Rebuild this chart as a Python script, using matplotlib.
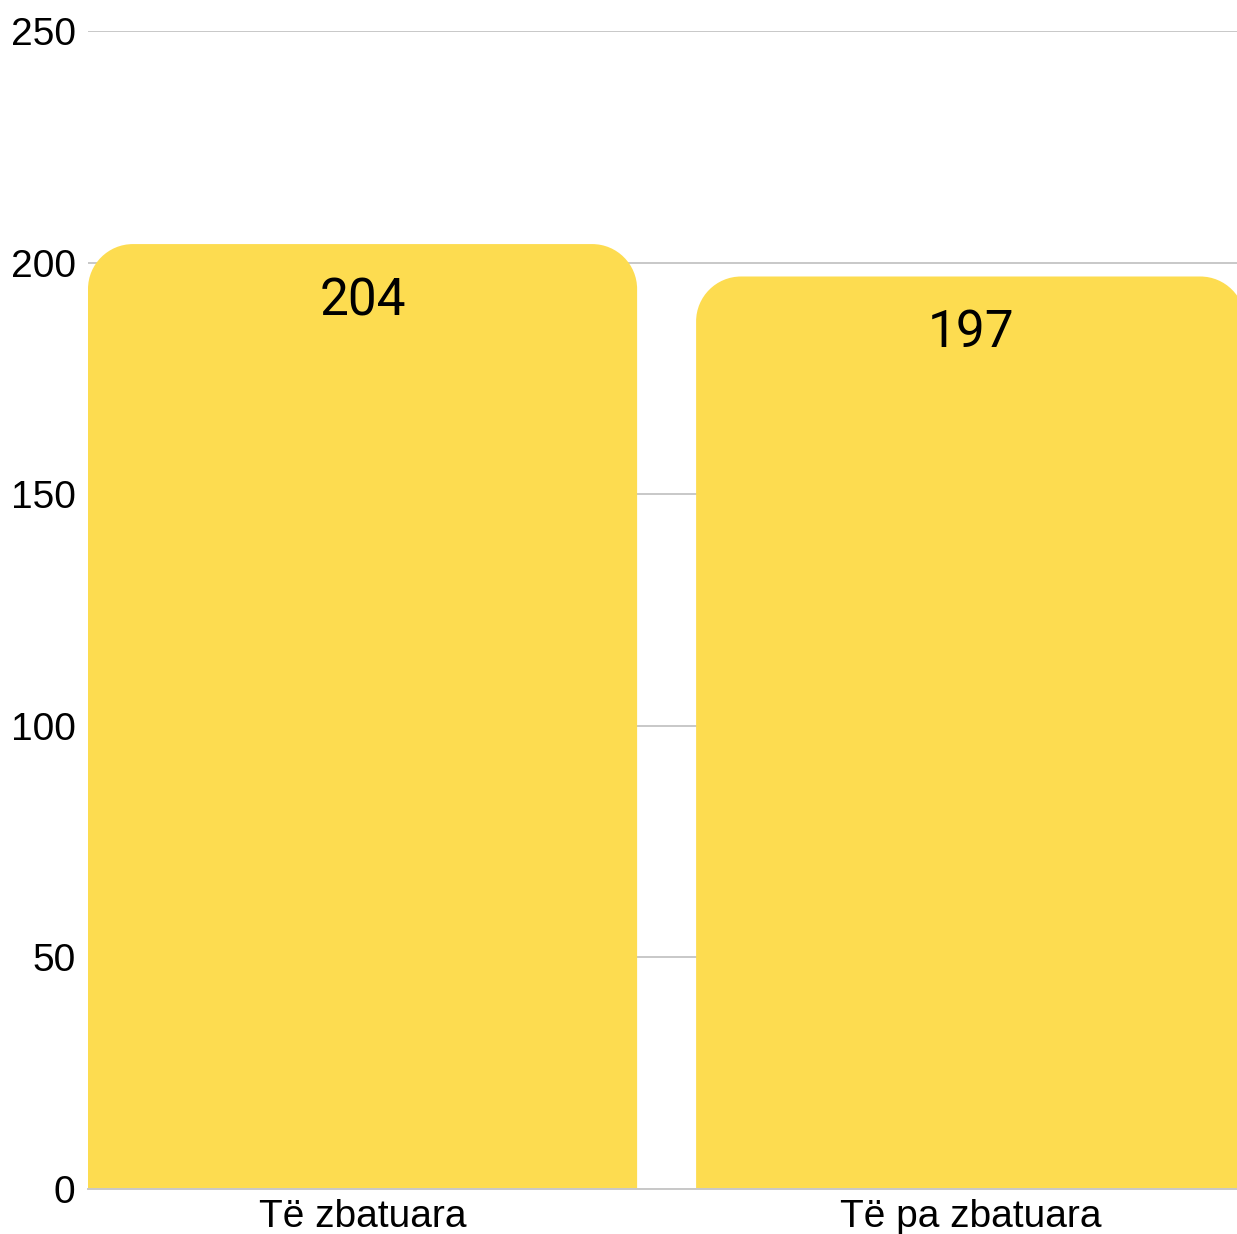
import numpy as np
import matplotlib
matplotlib.use('Agg')
import matplotlib.pyplot as plt
from matplotlib.path import Path
from matplotlib.patches import PathPatch

categories = ['Të zbatuara', 'Të pa zbatuara']
values = [204, 197]
yticks = [0, 50, 100, 150, 200, 250]

BAR_COLOR = '#FDDC50'
GRID_COLOR = '#C8C8C8'


def rounded_top_bar(x0, x1, y0, y1, rx, ry):
    # bar path with rounded top corners, square bottom
    k = 0.5523
    verts = [
        (x0, y0),
        (x0, y1 - ry),
        (x0, y1 - ry + k * ry), (x0 + rx - k * rx, y1), (x0 + rx, y1),
        (x1 - rx, y1),
        (x1 - rx + k * rx, y1), (x1, y1 - ry + k * ry), (x1, y1 - ry),
        (x1, y0),
        (x0, y0),
    ]
    codes = [Path.MOVETO, Path.LINETO,
             Path.CURVE4, Path.CURVE4, Path.CURVE4,
             Path.LINETO,
             Path.CURVE4, Path.CURVE4, Path.CURVE4,
             Path.LINETO, Path.CLOSEPOLY]
    return Path(verts, codes)


fig = plt.figure(figsize=(12.37, 12.34), dpi=100)
ax = fig.add_axes([88 / 1237, 45 / 1234, 1 - 88 / 1237, 1158 / 1234])

x = np.arange(len(categories))
width = 0.903
ax.set_xlim(-0.4515, 1.438)
ax.set_ylim(0, 250)

# corner radius ~45px converted to data units
px_x = (1237 - 88) / (1.438 + 0.4515)
px_y = 1158 / 250
rx = 45 / px_x
ry = 45 / px_y

for xi, v in zip(x, values):
    p = rounded_top_bar(xi - width / 2, xi + width / 2, 0, v, rx, ry)
    ax.add_patch(PathPatch(p, facecolor=BAR_COLOR, edgecolor='none', zorder=2))
    ax.text(xi, v - 57 / px_y, str(v), ha='center', va='center',
            fontsize=37, family='Roboto', color='black', zorder=3)

ax.set_yticks(yticks)
ax.set_yticklabels([str(t) for t in yticks], family='Liberation Sans', fontsize=28)
ax.set_xticks(x)
ax.set_xticklabels(categories, family='Liberation Sans', fontsize=28)
ax.tick_params(axis='both', length=0)
ax.tick_params(axis='y', pad=9)
ax.tick_params(axis='x', pad=7)

ax.grid(axis='y', color=GRID_COLOR, linewidth=1.4, zorder=1)
ax.set_axisbelow(True)
ax.axhline(0, color=GRID_COLOR, linewidth=1.4, zorder=3, clip_on=False)
for s in ax.spines.values():
    s.set_visible(False)

fig.savefig('out.png', dpi=100)
